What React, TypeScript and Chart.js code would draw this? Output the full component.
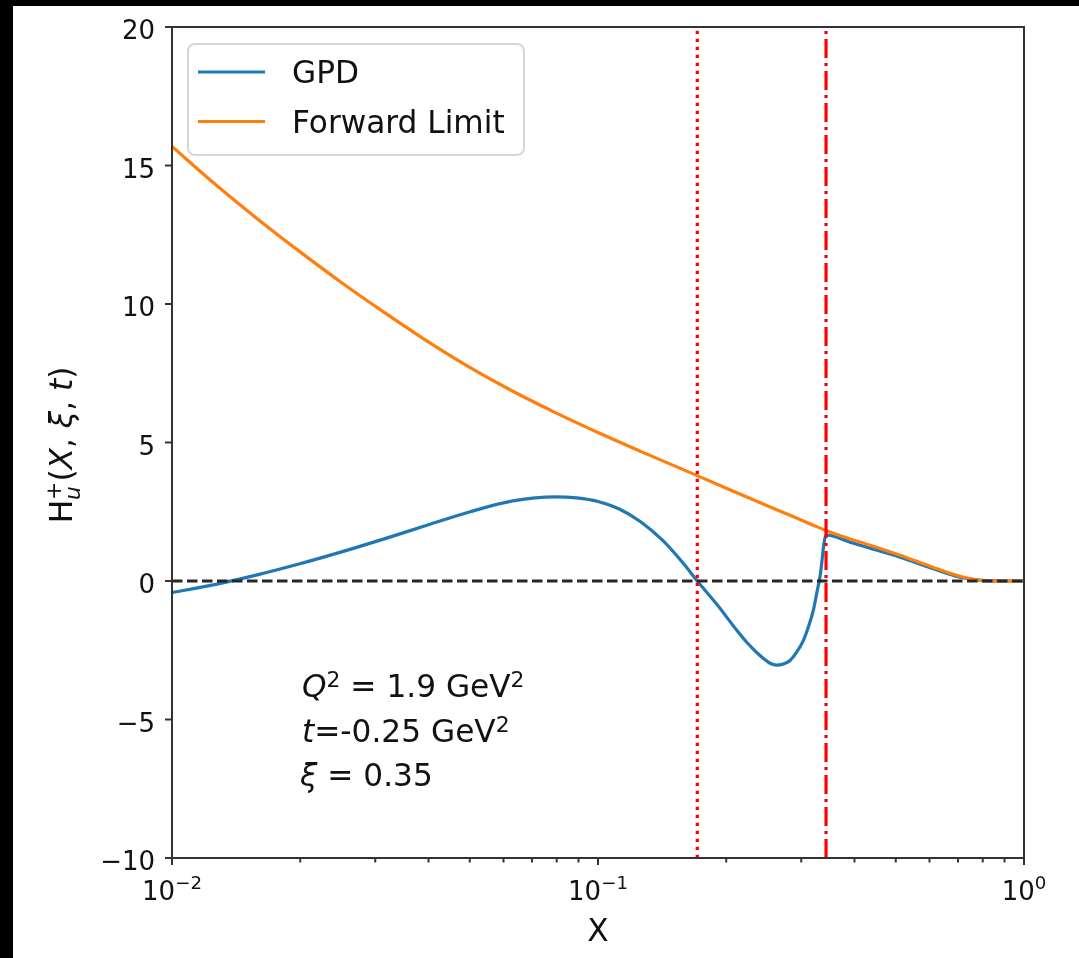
import React, { useEffect, useRef } from "react";
import { Chart, registerables } from "chart.js";

Chart.register(...registerables);

// ---------- data ----------
const gpdX = [0.01, 0.01259, 0.01585, 0.01995, 0.02512, 0.03162, 0.03981, 0.05012, 0.0631, 0.07943, 0.0891, 0.1, 0.1122, 0.1259, 0.1413, 0.1585, 0.171, 0.1905, 0.2117, 0.2234, 0.2358, 0.2466, 0.2533, 0.2625, 0.2723, 0.2823, 0.2926, 0.3034, 0.3116, 0.3202, 0.326, 0.332, 0.343, 0.3905, 0.4273, 0.5117, 0.6124, 0.7075, 0.7606, 0.82, 0.9, 1.0];
const gpdY = [-0.42, -0.13, 0.22, 0.62, 1.06, 1.53, 2.02, 2.5, 2.89, 3.04, 3.0, 2.87, 2.6, 2.14, 1.49, 0.64, 0.0, -0.86, -1.78, -2.21, -2.58, -2.84, -2.97, -3.04, -3.0, -2.87, -2.57, -2.15, -1.67, -1.06, -0.46, 0.16, 1.66, 1.4, 1.22, 0.86, 0.44, 0.14, 0.06, 0.01, 0.0, 0.0];

const fwdX = [0.01, 0.01259, 0.01585, 0.01995, 0.02512, 0.03162, 0.03981, 0.05012, 0.0631, 0.07943, 0.1, 0.1259, 0.1585, 0.1995, 0.2512, 0.3162, 0.343, 0.3905, 0.4273, 0.5117, 0.6124, 0.7075, 0.7606, 0.82, 0.9, 1.0];
const fwdY = [15.69, 14.34, 13.08, 11.89, 10.75, 9.68, 8.65, 7.7, 6.85, 6.08, 5.36, 4.68, 4.02, 3.36, 2.7, 2.05, 1.82, 1.52, 1.33, 0.93, 0.49, 0.17, 0.06, 0.0, 0.0, 0.0];

const dottedX = 0.171;
const dashDotX = 0.343;
const zeroY = 0;

const xMin = 0.01;
const xMax = 1;
const yMin = -10;
const yMax = 20;

const yTicks = [-10, -5, 0, 5, 10, 15, 20];
const xMajorTicks = [0.01, 0.1, 1];
const xMajorExp = ["\u22122", "\u22121", "0"];
const xMinorTicks = [0.02, 0.03, 0.04, 0.05, 0.06, 0.07, 0.08, 0.09, 0.2, 0.3, 0.4, 0.5, 0.6, 0.7, 0.8, 0.9];

const seriesLabels = ["GPD", "Forward Limit"];
const seriesColors = ["#1f77b4", "#ff7f0e"];

const FONT = '"DejaVu Sans", "Noto Sans", sans-serif';
const TICK_SIZE = 26;
const TEXT_SIZE = 31.2;

type Seg = { t: string; it?: boolean; sc?: number; dy?: number; hold?: boolean };

function fontOf(seg: Seg, size: number) {
  const s = size * (seg.sc ?? 1);
  return `${seg.it ? "italic " : ""}${s}px ${FONT}`;
}

function measureSegs(ctx: CanvasRenderingContext2D, segs: Seg[], size: number) {
  let w = 0;
  let holdW = 0;
  for (const seg of segs) {
    ctx.font = fontOf(seg, size);
    const sw = ctx.measureText(seg.t).width;
    if (seg.hold) {
      holdW = sw;
    } else {
      w += Math.max(sw, holdW);
      holdW = 0;
    }
  }
  return w;
}

function drawSegs(ctx: CanvasRenderingContext2D, x: number, y: number, segs: Seg[], size: number) {
  let cx = x;
  let holdW = 0;
  ctx.textBaseline = "alphabetic";
  ctx.textAlign = "left";
  for (const seg of segs) {
    ctx.font = fontOf(seg, size);
    ctx.fillText(seg.t, cx, y + (seg.dy ?? 0));
    const sw = ctx.measureText(seg.t).width;
    if (seg.hold) {
      holdW = sw;
    } else {
      cx += Math.max(sw, holdW);
      holdW = 0;
    }
  }
}

const bgPlugin = {
  id: "bgPlugin",
  beforeDraw(chart: any) {
    const ctx = chart.ctx as CanvasRenderingContext2D;
    ctx.save();
    ctx.fillStyle = "#000";
    ctx.fillRect(0, 0, chart.width, chart.height);
    ctx.fillStyle = "#fff";
    ctx.fillRect(13, 6, chart.width - 13, chart.height - 6);
    ctx.restore();
  },
};

const decorPlugin = {
  id: "decorPlugin",
  afterDatasetsDraw(chart: any) {
    const ctx = chart.ctx as CanvasRenderingContext2D;
    const { left, right, top, bottom } = chart.chartArea;
    const xs = chart.scales.x;
    const ys = chart.scales.y;
    ctx.save();

    // frame
    ctx.strokeStyle = "#333";
    ctx.lineWidth = 2;
    ctx.strokeRect(left, top, right - left, bottom - top);

    // y ticks
    ctx.fillStyle = "#111";
    for (const v of yTicks) {
      const py = ys.getPixelForValue(v);
      ctx.beginPath();
      ctx.moveTo(left - 7, py);
      ctx.lineTo(left, py);
      ctx.stroke();
      const label = v < 0 ? "\u2212" + Math.abs(v) : String(v);
      ctx.font = `${TICK_SIZE}px ${FONT}`;
      ctx.textAlign = "right";
      ctx.textBaseline = "alphabetic";
      ctx.fillText(label, left - 17, py + 12);
    }

    // x ticks
    for (const v of xMinorTicks) {
      const px = xs.getPixelForValue(v);
      ctx.beginPath();
      ctx.moveTo(px, bottom);
      ctx.lineTo(px, bottom + 4.5);
      ctx.stroke();
    }
    xMajorTicks.forEach((v, i) => {
      const px = xs.getPixelForValue(v);
      ctx.beginPath();
      ctx.moveTo(px, bottom);
      ctx.lineTo(px, bottom + 7);
      ctx.stroke();
      const segs: Seg[] = [{ t: "10" }, { t: xMajorExp[i], sc: 0.7, dy: -11 }];
      const w = measureSegs(ctx, segs, TICK_SIZE);
      drawSegs(ctx, px - w / 2, bottom + 42, segs, TICK_SIZE);
    });

    // x title
    {
      const segs: Seg[] = [{ t: "X" }];
      const w = measureSegs(ctx, segs, TEXT_SIZE);
      drawSegs(ctx, 598 - w / 2, 941, segs, TEXT_SIZE);
    }

    // y title (rotated)
    {
      const segs: Seg[] = [
        { t: "H" },
        { t: "+", sc: 0.7, dy: -11, hold: true },
        { t: "u", it: true, sc: 0.7, dy: 8 },
        { t: "(" },
        { t: "X", it: true },
        { t: ", " },
        { t: "\u03be", it: true },
        { t: ", " },
        { t: "t", it: true },
        { t: ")" },
      ];
      const w = measureSegs(ctx, segs, TEXT_SIZE);
      ctx.save();
      ctx.translate(72, 445);
      ctx.rotate(-Math.PI / 2);
      drawSegs(ctx, -w / 2, 0, segs, TEXT_SIZE);
      ctx.restore();
    }

    // annotation
    drawSegs(ctx, 302, 697, [
      { t: "Q", it: true },
      { t: "2", sc: 0.7, dy: -10 },
      { t: " = 1.9 GeV" },
      { t: "2", sc: 0.7, dy: -10 },
    ], TEXT_SIZE);
    drawSegs(ctx, 302, 742, [
      { t: "t", it: true },
      { t: "=-0.25 GeV" },
      { t: "2", sc: 0.7, dy: -10 },
    ], TEXT_SIZE);
    drawSegs(ctx, 300, 786, [
      { t: "\u03be", it: true },
      { t: " = 0.35" },
    ], TEXT_SIZE);

    // legend
    {
      const bx = 188, by = 44, bw = 336, bh = 111, r = 7;
      ctx.beginPath();
      ctx.moveTo(bx + r, by);
      ctx.lineTo(bx + bw - r, by);
      ctx.arcTo(bx + bw, by, bx + bw, by + r, r);
      ctx.lineTo(bx + bw, by + bh - r);
      ctx.arcTo(bx + bw, by + bh, bx + bw - r, by + bh, r);
      ctx.lineTo(bx + r, by + bh);
      ctx.arcTo(bx, by + bh, bx, by + bh - r, r);
      ctx.lineTo(bx, by + r);
      ctx.arcTo(bx, by, bx + r, by, r);
      ctx.closePath();
      ctx.fillStyle = "rgba(255,255,255,0.8)";
      ctx.fill();
      ctx.strokeStyle = "#d6d6d6";
      ctx.lineWidth = 2;
      ctx.stroke();
      const rows = [72, 121.5];
      const baselines = [83, 133];
      seriesLabels.forEach((lab, i) => {
        ctx.strokeStyle = seriesColors[i];
        ctx.lineWidth = 3.2;
        ctx.beginPath();
        ctx.moveTo(198, rows[i]);
        ctx.lineTo(265, rows[i]);
        ctx.stroke();
        ctx.fillStyle = "#111";
        drawSegs(ctx, 292, baselines[i], [{ t: lab }], TEXT_SIZE);
      });
    }

    ctx.restore();
  },
};

export default function App() {
  const ref = useRef<HTMLCanvasElement | null>(null);
  useEffect(() => {
    if (!ref.current) return;
    const lw = 3.2;
    const chart = new Chart(ref.current, {
      type: "line",
      data: {
        datasets: [
          {
            label: seriesLabels[0],
            data: gpdX.map((x, i) => ({ x, y: gpdY[i] })),
            borderColor: seriesColors[0],
            borderWidth: lw,
            pointRadius: 0,
            fill: false,
            cubicInterpolationMode: "monotone",
            order: 5,
          },
          {
            label: seriesLabels[1],
            data: fwdX.map((x, i) => ({ x, y: fwdY[i] })),
            borderColor: seriesColors[1],
            borderWidth: lw,
            pointRadius: 0,
            fill: false,
            cubicInterpolationMode: "monotone",
            order: 4,
          },
          {
            label: "zero",
            data: [{ x: xMin, y: zeroY }, { x: xMax, y: zeroY }],
            borderColor: "#262626",
            borderWidth: lw,
            borderDash: [10.5, 4.5],
            pointRadius: 0,
            tension: 0,
            fill: false,
            order: 3,
          },
          {
            label: "dotted",
            data: [{ x: dottedX, y: yMin }, { x: dottedX, y: yMax }],
            borderColor: "#ff0000",
            borderWidth: lw,
            borderDash: [3.2, 4.8],
            pointRadius: 0,
            tension: 0,
            fill: false,
            order: 2,
          },
          {
            label: "dashdot",
            data: [{ x: dashDotX, y: yMin }, { x: dashDotX, y: yMax }],
            borderColor: "#ff0000",
            borderWidth: lw,
            borderDash: [19, 5, 3, 5],
            pointRadius: 0,
            tension: 0,
            fill: false,
            order: 1,
          },
        ],
      } as any,
      options: {
        animation: false,
        responsive: false,
        maintainAspectRatio: false,
        layout: { padding: { left: 172, top: 27, right: 55, bottom: 100 } },
        scales: {
          x: { type: "logarithmic", min: xMin, max: xMax, display: false },
          y: { type: "linear", min: yMin, max: yMax, display: false },
        },
        plugins: { legend: { display: false }, tooltip: { enabled: false } },
        elements: { point: { radius: 0 } },
      } as any,
      plugins: [bgPlugin, decorPlugin],
    });
    return () => chart.destroy();
  }, []);
  return (
    <div style={{ position: "absolute", left: 0, top: 0, width: 1079, height: 958 }}>
      <canvas ref={ref} width={1079} height={958} style={{ display: "block", width: 1079, height: 958 }} />
    </div>
  );
}
